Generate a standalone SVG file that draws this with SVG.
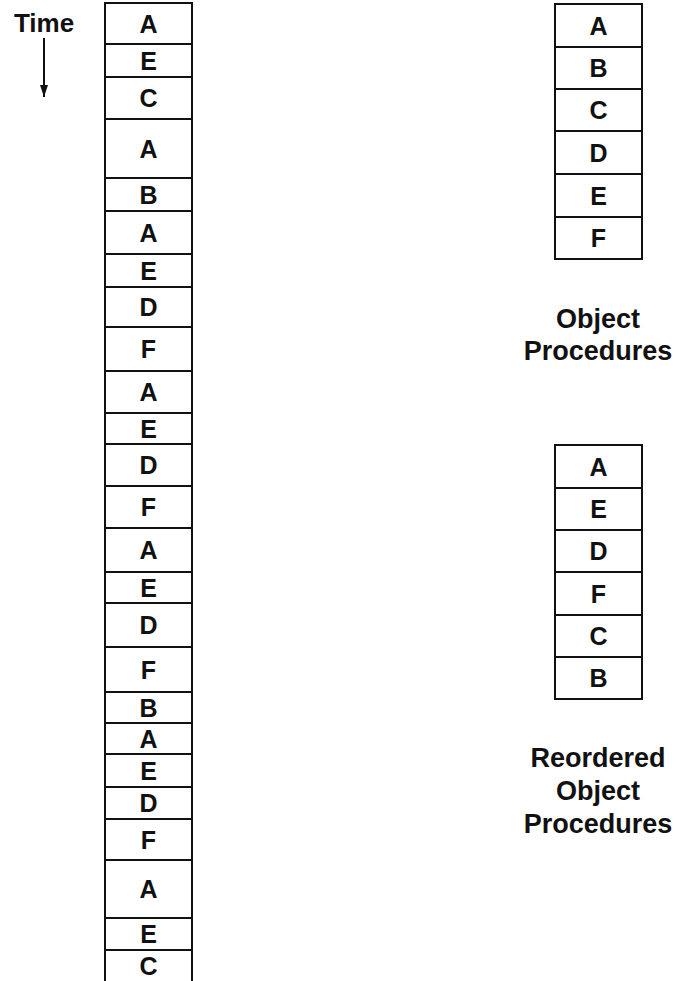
<svg xmlns="http://www.w3.org/2000/svg" width="676" height="981" viewBox="0 0 676 981">
<style>
.cell{fill:#fff;stroke:#111;stroke-width:2}
.lt{font-family:"Liberation Sans",Arial,sans-serif;font-weight:bold;font-size:25px;fill:#111;text-anchor:middle}
.cap{font-family:"Liberation Sans",Arial,sans-serif;font-weight:bold;font-size:27px;fill:#111;text-anchor:middle}
</style>
<defs>
<marker id="ah" markerWidth="12" markerHeight="8" refX="12" refY="4" orient="auto" markerUnits="userSpaceOnUse" viewBox="0 0 12 8">
<path d="M0,0 L12,4 L0,8 Z" fill="#111"/>
</marker>
</defs>
<rect width="676" height="981" fill="#fff"/>
<g id="time-label"><text class="cap" x="44" y="32" style="font-size:26px">Time</text></g>
<g id="connectors">
<line x1="44" y1="38" x2="44" y2="97" stroke="#111" stroke-width="2" marker-end="url(#ah)"/>
</g>
<g id="time-column">
<g id="t1"><rect class="cell" x="105" y="3" width="87" height="41"/><text class="lt" x="148.5" y="32.5">A</text></g>
<g id="t2"><rect class="cell" x="105" y="44" width="87" height="33"/><text class="lt" x="148.5" y="69.5">E</text></g>
<g id="t3"><rect class="cell" x="105" y="77" width="87" height="42"/><text class="lt" x="148.5" y="107">C</text></g>
<g id="t4"><rect class="cell" x="105" y="119" width="87" height="59"/><text class="lt" x="148.5" y="157.5">A</text></g>
<g id="t5"><rect class="cell" x="105" y="178" width="87" height="33"/><text class="lt" x="148.5" y="203.5">B</text></g>
<g id="t6"><rect class="cell" x="105" y="211" width="87" height="43"/><text class="lt" x="148.5" y="241.5">A</text></g>
<g id="t7"><rect class="cell" x="105" y="254" width="87" height="33"/><text class="lt" x="148.5" y="279.5">E</text></g>
<g id="t8"><rect class="cell" x="105" y="287" width="87" height="40"/><text class="lt" x="148.5" y="316">D</text></g>
<g id="t9"><rect class="cell" x="105" y="327" width="87" height="44"/><text class="lt" x="148.5" y="358">F</text></g>
<g id="t10"><rect class="cell" x="105" y="371" width="87" height="42"/><text class="lt" x="148.5" y="401">A</text></g>
<g id="t11"><rect class="cell" x="105" y="413" width="87" height="31"/><text class="lt" x="148.5" y="437.5">E</text></g>
<g id="t12"><rect class="cell" x="105" y="444" width="87" height="42"/><text class="lt" x="148.5" y="474">D</text></g>
<g id="t13"><rect class="cell" x="105" y="486" width="87" height="42"/><text class="lt" x="148.5" y="516">F</text></g>
<g id="t14"><rect class="cell" x="105" y="528" width="87" height="44"/><text class="lt" x="148.5" y="559">A</text></g>
<g id="t15"><rect class="cell" x="105" y="572" width="87" height="31"/><text class="lt" x="148.5" y="596.5">E</text></g>
<g id="t16"><rect class="cell" x="105" y="603" width="87" height="44"/><text class="lt" x="148.5" y="634">D</text></g>
<g id="t17"><rect class="cell" x="105" y="647" width="87" height="45"/><text class="lt" x="148.5" y="678.5">F</text></g>
<g id="t18"><rect class="cell" x="105" y="692" width="87" height="31"/><text class="lt" x="148.5" y="716.5">B</text></g>
<g id="t19"><rect class="cell" x="105" y="723" width="87" height="31"/><text class="lt" x="148.5" y="747.5">A</text></g>
<g id="t20"><rect class="cell" x="105" y="754" width="87" height="33"/><text class="lt" x="148.5" y="779.5">E</text></g>
<g id="t21"><rect class="cell" x="105" y="787" width="87" height="32"/><text class="lt" x="148.5" y="812">D</text></g>
<g id="t22"><rect class="cell" x="105" y="819" width="87" height="41"/><text class="lt" x="148.5" y="848.5">F</text></g>
<g id="t23"><rect class="cell" x="105" y="860" width="87" height="58"/><text class="lt" x="148.5" y="898">A</text></g>
<g id="t24"><rect class="cell" x="105" y="918" width="87" height="32"/><text class="lt" x="148.5" y="943">E</text></g>
<g id="t25"><rect class="cell" x="105" y="950" width="87" height="45"/><text class="lt" x="148.5" y="975">C</text></g>
</g>
<g id="object-procedures">
<g id="o1"><rect class="cell" x="555" y="4" width="87" height="43"/><text class="lt" x="598.5" y="34.5">A</text></g>
<g id="o2"><rect class="cell" x="555" y="47" width="87" height="42"/><text class="lt" x="598.5" y="77">B</text></g>
<g id="o3"><rect class="cell" x="555" y="89" width="87" height="42"/><text class="lt" x="598.5" y="119">C</text></g>
<g id="o4"><rect class="cell" x="555" y="131" width="87" height="43"/><text class="lt" x="598.5" y="161.5">D</text></g>
<g id="o5"><rect class="cell" x="555" y="174" width="87" height="43"/><text class="lt" x="598.5" y="204.5">E</text></g>
<g id="o6"><rect class="cell" x="555" y="217" width="87" height="42"/><text class="lt" x="598.5" y="247">F</text></g>
</g>
<g id="object-procedures-label"><text class="cap" x="598" y="328">Object</text><text class="cap" x="598" y="360">Procedures</text></g>
<g id="reordered-procedures">
<g id="r1"><rect class="cell" x="555" y="445" width="87" height="43"/><text class="lt" x="598.5" y="475.5">A</text></g>
<g id="r2"><rect class="cell" x="555" y="488" width="87" height="42"/><text class="lt" x="598.5" y="518">E</text></g>
<g id="r3"><rect class="cell" x="555" y="530" width="87" height="42"/><text class="lt" x="598.5" y="560">D</text></g>
<g id="r4"><rect class="cell" x="555" y="572" width="87" height="43"/><text class="lt" x="598.5" y="602.5">F</text></g>
<g id="r5"><rect class="cell" x="555" y="615" width="87" height="42"/><text class="lt" x="598.5" y="645">C</text></g>
<g id="r6"><rect class="cell" x="555" y="657" width="87" height="42"/><text class="lt" x="598.5" y="687">B</text></g>
</g>
<g id="reordered-label"><text class="cap" x="598" y="767">Reordered</text><text class="cap" x="598" y="800">Object</text><text class="cap" x="598" y="833">Procedures</text></g>
</svg>
